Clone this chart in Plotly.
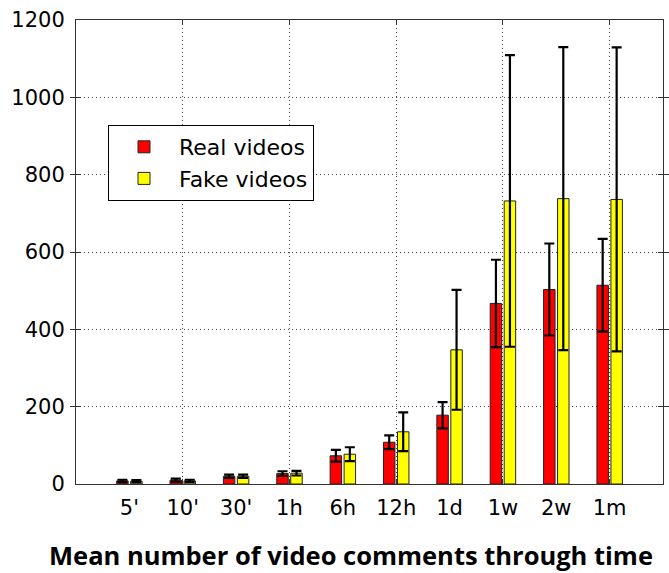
import plotly.graph_objects as go

categories = ["5'", "10'", "30'", "1h", "6h", "12h", "1d", "1w", "2w", "1m"]
positions = list(range(1, len(categories) + 1))
real_mean = [8, 10, 20, 27, 73, 108, 178, 467, 503, 514]
real_std = [3, 4, 4, 6, 15, 18, 34, 113, 119, 120]
fake_mean = [7, 8, 20, 28, 77, 135, 347, 732, 738, 736]
fake_std = [3, 3, 4, 6, 18, 50, 155, 377, 392, 393]
y_ticks = [0, 200, 400, 600, 800, 1000, 1200]
grid_x = [2, 4, 6, 8, 10]

TICK_FONT = dict(family="DejaVu Sans", size=21, color="black")

fig = go.Figure()
fig.add_trace(go.Bar(
    x=positions, y=real_mean, name="Real videos",
    width=0.215, offset=-0.238,
    marker=dict(color="#FF0000", line=dict(color="#222222", width=1)),
    error_y=dict(type="data", array=real_std, visible=True,
                 color="black", thickness=2.2, width=5),
))
fig.add_trace(go.Bar(
    x=positions, y=fake_mean, name="Fake videos",
    width=0.215, offset=0.024,
    marker=dict(color="#FFFF00", line=dict(color="#222222", width=1)),
    error_y=dict(type="data", array=fake_std, visible=True,
                 color="black", thickness=2.2, width=5),
))
# invisible trace to activate the overlay axis carrying vertical grid
fig.add_trace(go.Scatter(x=[0], y=[0], xaxis="x2", mode="none",
                         showlegend=False, hoverinfo="skip"))

fig.update_layout(
    width=669, height=573,
    margin=dict(l=76, r=6, t=20, b=89),
    paper_bgcolor="white", plot_bgcolor="white",
    barmode="overlay",
    showlegend=True,
    legend=dict(
        x=(108 - 76) / 587, y=(484 - 125) / 464,
        xanchor="left", yanchor="top",
        bgcolor="white", bordercolor="black", borderwidth=1,
        font=dict(family="DejaVu Sans", size=22, color="black"),
        itemwidth=60, tracegroupgap=2,
    ),
    title=dict(
        text="<b>Mean number of video comments through time</b>",
        font=dict(family="Open Sans", size=25.5, color="black"),
        x=351 / 669, xref="container", xanchor="center",
        y=1 - 556 / 573, yref="container", yanchor="middle",
    ),
    xaxis=dict(
        range=[0, 11.0], tickmode="array", tickvals=positions,
        ticktext=categories, ticks="", showgrid=False, zeroline=False,
        showline=True, linecolor="#333333", linewidth=1, mirror=True,
        tickfont=TICK_FONT, ticklabelstandoff=5,
    ),
    xaxis2=dict(
        overlaying="x", matches="x", range=[0, 11.0], tickmode="array",
        tickvals=grid_x, showticklabels=False, ticks="inside", ticklen=5,
        tickcolor="#333333", showgrid=True, gridcolor="#444444",
        griddash="1px,3px", gridwidth=1, zeroline=False, showline=False,
        mirror="allticks",
    ),
    yaxis=dict(
        range=[0, 1200], tickmode="array", tickvals=y_ticks,
        ticks="inside", ticklen=5, tickcolor="#333333",
        showgrid=True, gridcolor="#444444", griddash="1px,3px", gridwidth=1,
        zeroline=False, showline=True, linecolor="#333333", linewidth=1,
        mirror="allticks", tickfont=TICK_FONT, ticklabelstandoff=6,
    ),
)

fig.write_html("out.html")
